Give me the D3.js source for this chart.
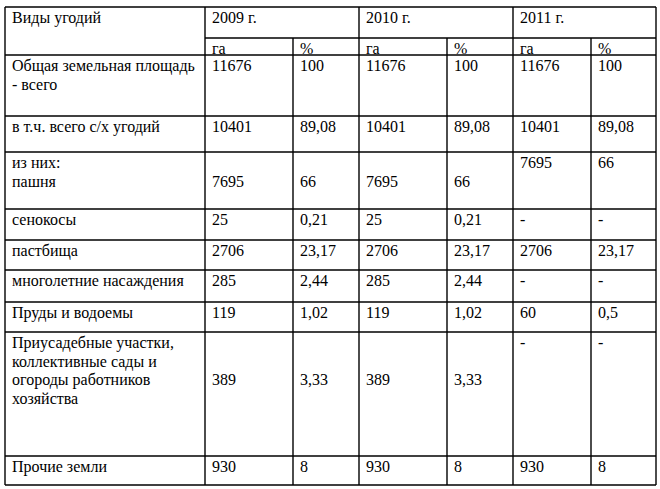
<!DOCTYPE html>
<html><head><meta charset="utf-8">
<script src="https://cdn.jsdelivr.net/npm/d3@7"></script>
<style>
html,body{margin:0;padding:0;background:#fff;}
svg{display:block;}
</style></head>
<body>
<svg id="chart" width="660" height="489"></svg>
<script>
// ---- data ----
const headerLabel = "Виды угодий";
const years = ["2009 г.", "2010 г.", "2011 г."];
const units = ["га", "%"];
const categories = [
  "Общая земельная площадь\n- всего",
  "в т.ч. всего с/х угодий",
  "из них:\nпашня",
  "сенокосы",
  "пастбища",
  "многолетние насаждения",
  "Пруды и водоемы",
  "Приусадебные участки,\nколлективные сады и\nогороды работников\nхозяйства",
  "Прочие земли"
];
const ha2009  = ["11676", "10401", "7695", "25", "2706", "285", "119", "389", "930"];
const pct2009 = ["100", "89,08", "66", "0,21", "23,17", "2,44", "1,02", "3,33", "8"];
const ha2010  = ["11676", "10401", "7695", "25", "2706", "285", "119", "389", "930"];
const pct2010 = ["100", "89,08", "66", "0,21", "23,17", "2,44", "1,02", "3,33", "8"];
const ha2011  = ["11676", "10401", "7695", "-", "2706", "-", "60", "-", "930"];
const pct2011 = ["100", "89,08", "66", "-", "23,17", "-", "0,5", "-", "8"];

// ---- layout ----
const colEdges = [5, 205, 293, 359, 447, 513, 591, 656];
const headerTop = 7, subHeaderTop = 38, bodyTop = 55;
const rowBottoms = [116, 152, 209, 240, 270, 302, 332, 456, 485];
const lineH = 18.4, baseOff = 16.3, padX = 7;
const fontSize = 16;
const fontFamily = '"Liberation Serif", "Times New Roman", Tinos';
// line offsets for 2009/2010 values (aligned with later text line)
const midLineOffset = [0, 0, 1, 0, 0, 0, 0, 2, 0];

const svg = d3.select("#chart");
const rowIdx = d3.range(categories.length);
const yTop = d3.scaleOrdinal().domain(rowIdx).range([bodyTop].concat(rowBottoms.slice(0, -1)));
const yBot = d3.scaleOrdinal().domain(rowIdx).range(rowBottoms);
const colKeys = ["cat", "ha2009", "pct2009", "ha2010", "pct2010", "ha2011", "pct2011"];
const xCol = d3.scaleOrdinal().domain(colKeys).range(colEdges.slice(0, -1));

const series = [
  {key: "ha2009", vals: ha2009, mid: true},
  {key: "pct2009", vals: pct2009, mid: true},
  {key: "ha2010", vals: ha2010, mid: true},
  {key: "pct2010", vals: pct2010, mid: true},
  {key: "ha2011", vals: ha2011, mid: false},
  {key: "pct2011", vals: pct2011, mid: false}
];

const g = svg.append("g");

function addText(x, top, str, offsetLines) {
  const lines = str.split("\n");
  const t = g.append("text")
    .style("font-family", fontFamily).style("font-size", fontSize + "px").attr("fill", "#000");
  lines.forEach((ln, i) => {
    t.append("tspan").attr("x", x + padX)
      .attr("y", top + baseOff + (i + (offsetLines || 0)) * lineH)
      .text(ln);
  });
}

addText(xCol("cat"), headerTop, headerLabel, 0);
years.forEach((yr, i) => addText(xCol(colKeys[1 + i * 2]), headerTop, yr, 0));
years.forEach((yr, i) => units.forEach((u, j) => addText(xCol(colKeys[1 + i * 2 + j]), subHeaderTop, u, 0)));

rowIdx.forEach(r => {
  addText(xCol("cat"), yTop(r), categories[r], 0);
  series.forEach(s => addText(xCol(s.key), yTop(r), s.vals[r], s.mid ? midLineOffset[r] : 0));
});

const lines = g.append("g").attr("stroke", "#000").attr("stroke-width", 1.4);
const L = (x1, y1, x2, y2) => lines.append("line").attr("x1", x1).attr("y1", y1).attr("x2", x2).attr("y2", y2);
const bottom = rowBottoms[rowBottoms.length - 1];
const right = colEdges[colEdges.length - 1];
L(colEdges[0], headerTop, right, headerTop);
L(colEdges[1], subHeaderTop, right, subHeaderTop);
L(colEdges[0], bodyTop, right, bodyTop);
rowIdx.forEach(r => L(colEdges[0], yBot(r), right, yBot(r)));
[0, 1, 3, 5, 7].forEach(i => L(colEdges[i], headerTop, colEdges[i], bottom));
[2, 4, 6].forEach(i => L(colEdges[i], subHeaderTop, colEdges[i], bottom));
</script>
</body></html>
